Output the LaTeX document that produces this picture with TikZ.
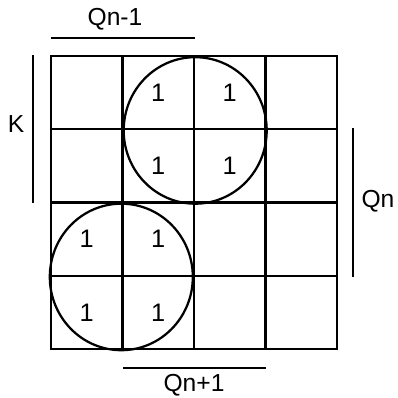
\documentclass[tikz,border=0pt]{standalone}
\usepackage{fontspec}
\setmainfont{Liberation Sans}
\usepackage{tikz}
\usetikzlibrary{positioning, calc}

\begin{document}
\begin{tikzpicture}[
    x=0.025cm, y=-0.025cm,
    cell/.style={draw, line width=1.7pt, minimum width=71.5*0.025cm, minimum height=73.25*0.025cm, inner sep=0pt},
    one/.style={font=\fontsize{18}{21}\selectfont, inner sep=0pt},
    loop/.style={line width=1.6pt},
    bar/.style={line width=1.3pt},
    label/.style={font=\fontsize{17.5}{20}\selectfont, inner sep=0pt}
]
\useasboundingbox (0,0) rectangle (397,398);

% Karnaugh map cells
\foreach \r in {1,...,4} {
  \foreach \c in {1,...,4} {
    \node[cell] (c\r\c) at ({51+71.5*(\c-0.5)},{56+73.25*(\r-0.5)}) {};
  }
}

% Ones
\foreach \cellname in {c12,c13,c22,c23,c31,c32,c41,c42} {
  \node[one] (one-\cellname) at (\cellname) {1};
}

% Groupings
\draw[loop] (c12.south east) ellipse [x radius=71.5, y radius=73.25];
\draw[loop] (c32.south west) ellipse [x radius=71.5, y radius=73.25];

% Variable bars
\coordinate (tl) at (51,38);
\coordinate (tr) at (195,38);
\draw[bar] (tl) -- (tr);
\node[label] (qnm) at (115,19) {Qn-1};

\coordinate (lt) at (33,55);
\coordinate (lb) at (33,203);
\draw[bar] (lt) -- (lb);
\node[label] (k) at (16,124) {K};

\coordinate (rt) at (353,128);
\coordinate (rb) at (353,277);
\draw[bar] (rt) -- (rb);
\node[label] (qn) at (378,201) {Qn};

\coordinate (bl) at (123,368);
\coordinate (br) at (266,368);
\draw[bar] (bl) -- (br);
\node[label] (qnp) at (194,385) {Qn+1};

\end{tikzpicture}
\end{document}
